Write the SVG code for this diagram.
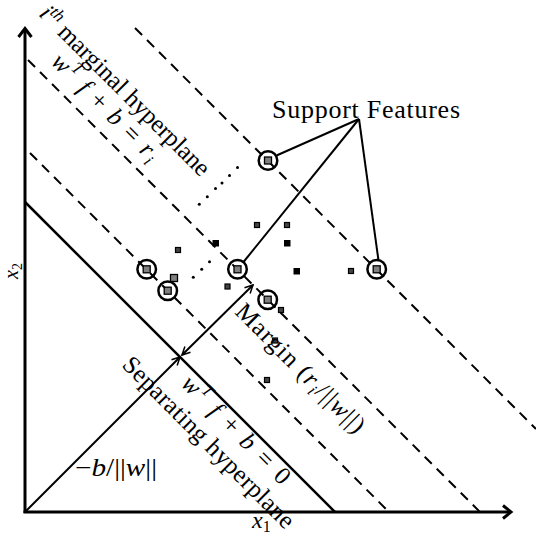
<svg xmlns="http://www.w3.org/2000/svg" width="536" height="538" viewBox="0 0 536 538">
<style>
text { font-family: "Liberation Serif", "Times New Roman", serif; fill: #000; }
.it { font-style: italic; }
.ax { stroke: #000; stroke-width: 3; fill: none; }
.axh { stroke: #000; stroke-width: 3; fill: none; stroke-linejoin: miter; }
.sep { stroke: #000; stroke-width: 2.5; fill: none; }
.dash { stroke: #000; stroke-width: 2; stroke-dasharray: 10 7; fill: none; }
.thin { stroke: #000; stroke-width: 2; fill: none; }
.ring { fill: none; stroke: #000; stroke-width: 2.5; }
.gsq { fill: #808080; stroke: #000; stroke-width: 1.3; }
.sq { fill: #444; stroke: #000; stroke-width: 1.2; }
.bsq { fill: #000; }
.dot { fill: #000; }
</style>
<defs>
<marker id="ah" viewBox="0 0 10 10" refX="9" refY="5" markerWidth="10" markerHeight="10" markerUnits="userSpaceOnUse" orient="auto-start-reverse">
<path d="M1,1 L9,5 L1,9" fill="none" stroke="#000" stroke-width="1.5"/>
</marker>
</defs>

<g id="axes">
<line class="ax" x1="25" y1="513" x2="25" y2="30"/>
<path class="axh" d="M18.5,37 L25,28.5 L31.5,37"/>
<line class="ax" x1="23.5" y1="512" x2="509" y2="512"/>
<path class="axh" d="M503,505.5 L511,512 L503,518.5"/>
</g>

<g id="hyperplanes">
<line class="sep" x1="25" y1="202" x2="335" y2="512"/>
<line class="dash" x1="30" y1="153" x2="389" y2="512"/>
<line class="dash" x1="28" y1="60" x2="480" y2="512"/>
<line class="dash" x1="135" y1="28" x2="536" y2="429"/>
</g>

<g id="dots">
<circle class="dot" cx="199.3" cy="204.3" r="1.5"/>
<circle class="dot" cx="207.3" cy="196.7" r="1.5"/>
<circle class="dot" cx="215.5" cy="188.5" r="1.5"/>
<circle class="dot" cx="222" cy="183" r="1.5"/>
<circle class="dot" cx="229.5" cy="175.5" r="1.5"/>
<circle class="dot" cx="237.5" cy="167.5" r="1.5"/>
<circle class="dot" cx="193.3" cy="277.3" r="1.5"/>
<circle class="dot" cx="201.7" cy="269.3" r="1.5"/>
<circle class="dot" cx="209.5" cy="261.7" r="1.5"/>
</g>

<g id="connectors">
<line class="thin" x1="25" y1="512" x2="180" y2="357" marker-end="url(#ah)"/>
<line class="thin" x1="182" y1="355" x2="253" y2="285" marker-start="url(#ah)" marker-end="url(#ah)"/>
<line class="thin" x1="359" y1="119" x2="276.5" y2="155.5"/>
<line class="thin" x1="359" y1="119" x2="243.5" y2="262"/>
<line class="thin" x1="359" y1="119" x2="378.5" y2="260.5"/>
</g>

<g id="points">
<rect class="sq" x="175.5" y="247.5" width="5" height="5"/>
<rect class="sq" x="254.5" y="222.5" width="5" height="5"/>
<rect class="sq" x="284.5" y="222.5" width="5" height="5"/>
<rect class="sq" x="225" y="284" width="5" height="5"/>
<rect class="sq" x="348.5" y="268.5" width="5" height="5"/>
<rect class="sq" x="278.5" y="307.5" width="5" height="5"/>
<rect class="sq" x="264.5" y="377.5" width="5" height="5"/>
<rect class="sq" x="272.5" y="338" width="5" height="5"/>
<rect class="bsq" x="212.5" y="240" width="6.5" height="6.5"/>
<rect class="bsq" x="284" y="240" width="6.5" height="6.5"/>
<rect class="bsq" x="293.5" y="268" width="6.5" height="6.5"/>
<rect class="gsq" x="170.5" y="274.5" width="7" height="7"/>
</g>

<g id="support-vectors">
<g id="sv1"><circle class="ring" cx="146.7" cy="269.3" r="9.3"/><rect class="gsq" x="143.2" y="265.8" width="7" height="7"/></g>
<g id="sv2"><circle class="ring" cx="167.7" cy="290.7" r="9.3"/><rect class="gsq" x="164.2" y="287.2" width="7" height="7"/></g>
<g id="sv3"><circle class="ring" cx="237.5" cy="269.3" r="9.3"/><rect class="gsq" x="234" y="265.8" width="7" height="7"/></g>
<g id="sv4"><circle class="ring" cx="268" cy="160.5" r="9.3"/><rect class="gsq" x="264.5" y="157" width="7" height="7"/></g>
<g id="sv5"><circle class="ring" cx="376.7" cy="269.3" r="9.3"/><rect class="gsq" x="373.2" y="265.8" width="7" height="7"/></g>
<g id="sv6"><circle class="ring" cx="267.7" cy="299.7" r="9.3"/><rect class="gsq" x="264.2" y="296.2" width="7" height="7"/></g>
</g>

<g id="labels">
<text id="lbl-ith" transform="translate(38,15) rotate(45)" font-size="25" textLength="230" lengthAdjust="spacing"><tspan class="it">i</tspan><tspan class="it" font-size="17" dy="-9">th</tspan><tspan dy="9"> marginal hyperplane</tspan></text>
<text id="lbl-ri" transform="translate(50,63) rotate(45)" font-size="25" textLength="141" lengthAdjust="spacing"><tspan class="it">w</tspan><tspan class="it" font-size="17" dy="-10">T</tspan><tspan dy="10"> </tspan><tspan class="it">f</tspan> + <tspan class="it">b</tspan> = <tspan class="it">r</tspan><tspan class="it" font-size="17" dy="5">i</tspan></text>
<text id="lbl-support" x="272" y="118" font-size="26" textLength="188" lengthAdjust="spacing">Support Features</text>
<text id="lbl-margin" transform="translate(234,313) rotate(45)" font-size="25" textLength="172" lengthAdjust="spacing">Margin (<tspan class="it">r</tspan><tspan class="it" font-size="17" dy="5">i</tspan><tspan dy="-5">/||</tspan><tspan class="it">w</tspan>||)</text>
<text id="lbl-zero" transform="translate(180,385) rotate(45)" font-size="25" textLength="143" lengthAdjust="spacing"><tspan class="it">w</tspan><tspan class="it" font-size="17" dy="-10">T</tspan><tspan dy="10"> </tspan><tspan class="it">f</tspan> + <tspan class="it">b</tspan> = 0</text>
<text id="lbl-sep" transform="translate(121,366) rotate(45)" font-size="25" textLength="232" lengthAdjust="spacing">Separating hyperplane</text>
<text id="lbl-b" x="75" y="476" font-size="25" textLength="82" lengthAdjust="spacingAndGlyphs">−<tspan class="it">b</tspan>/||<tspan class="it">w</tspan>||</text>
<text id="lbl-x1" x="252" y="528" font-size="24"><tspan class="it">x</tspan><tspan font-size="16" dy="4">1</tspan></text>
<text id="lbl-x2" transform="translate(18,279) rotate(-90)" font-size="20"><tspan class="it">x</tspan><tspan font-size="14" dy="4">2</tspan></text>
</g>
</svg>
